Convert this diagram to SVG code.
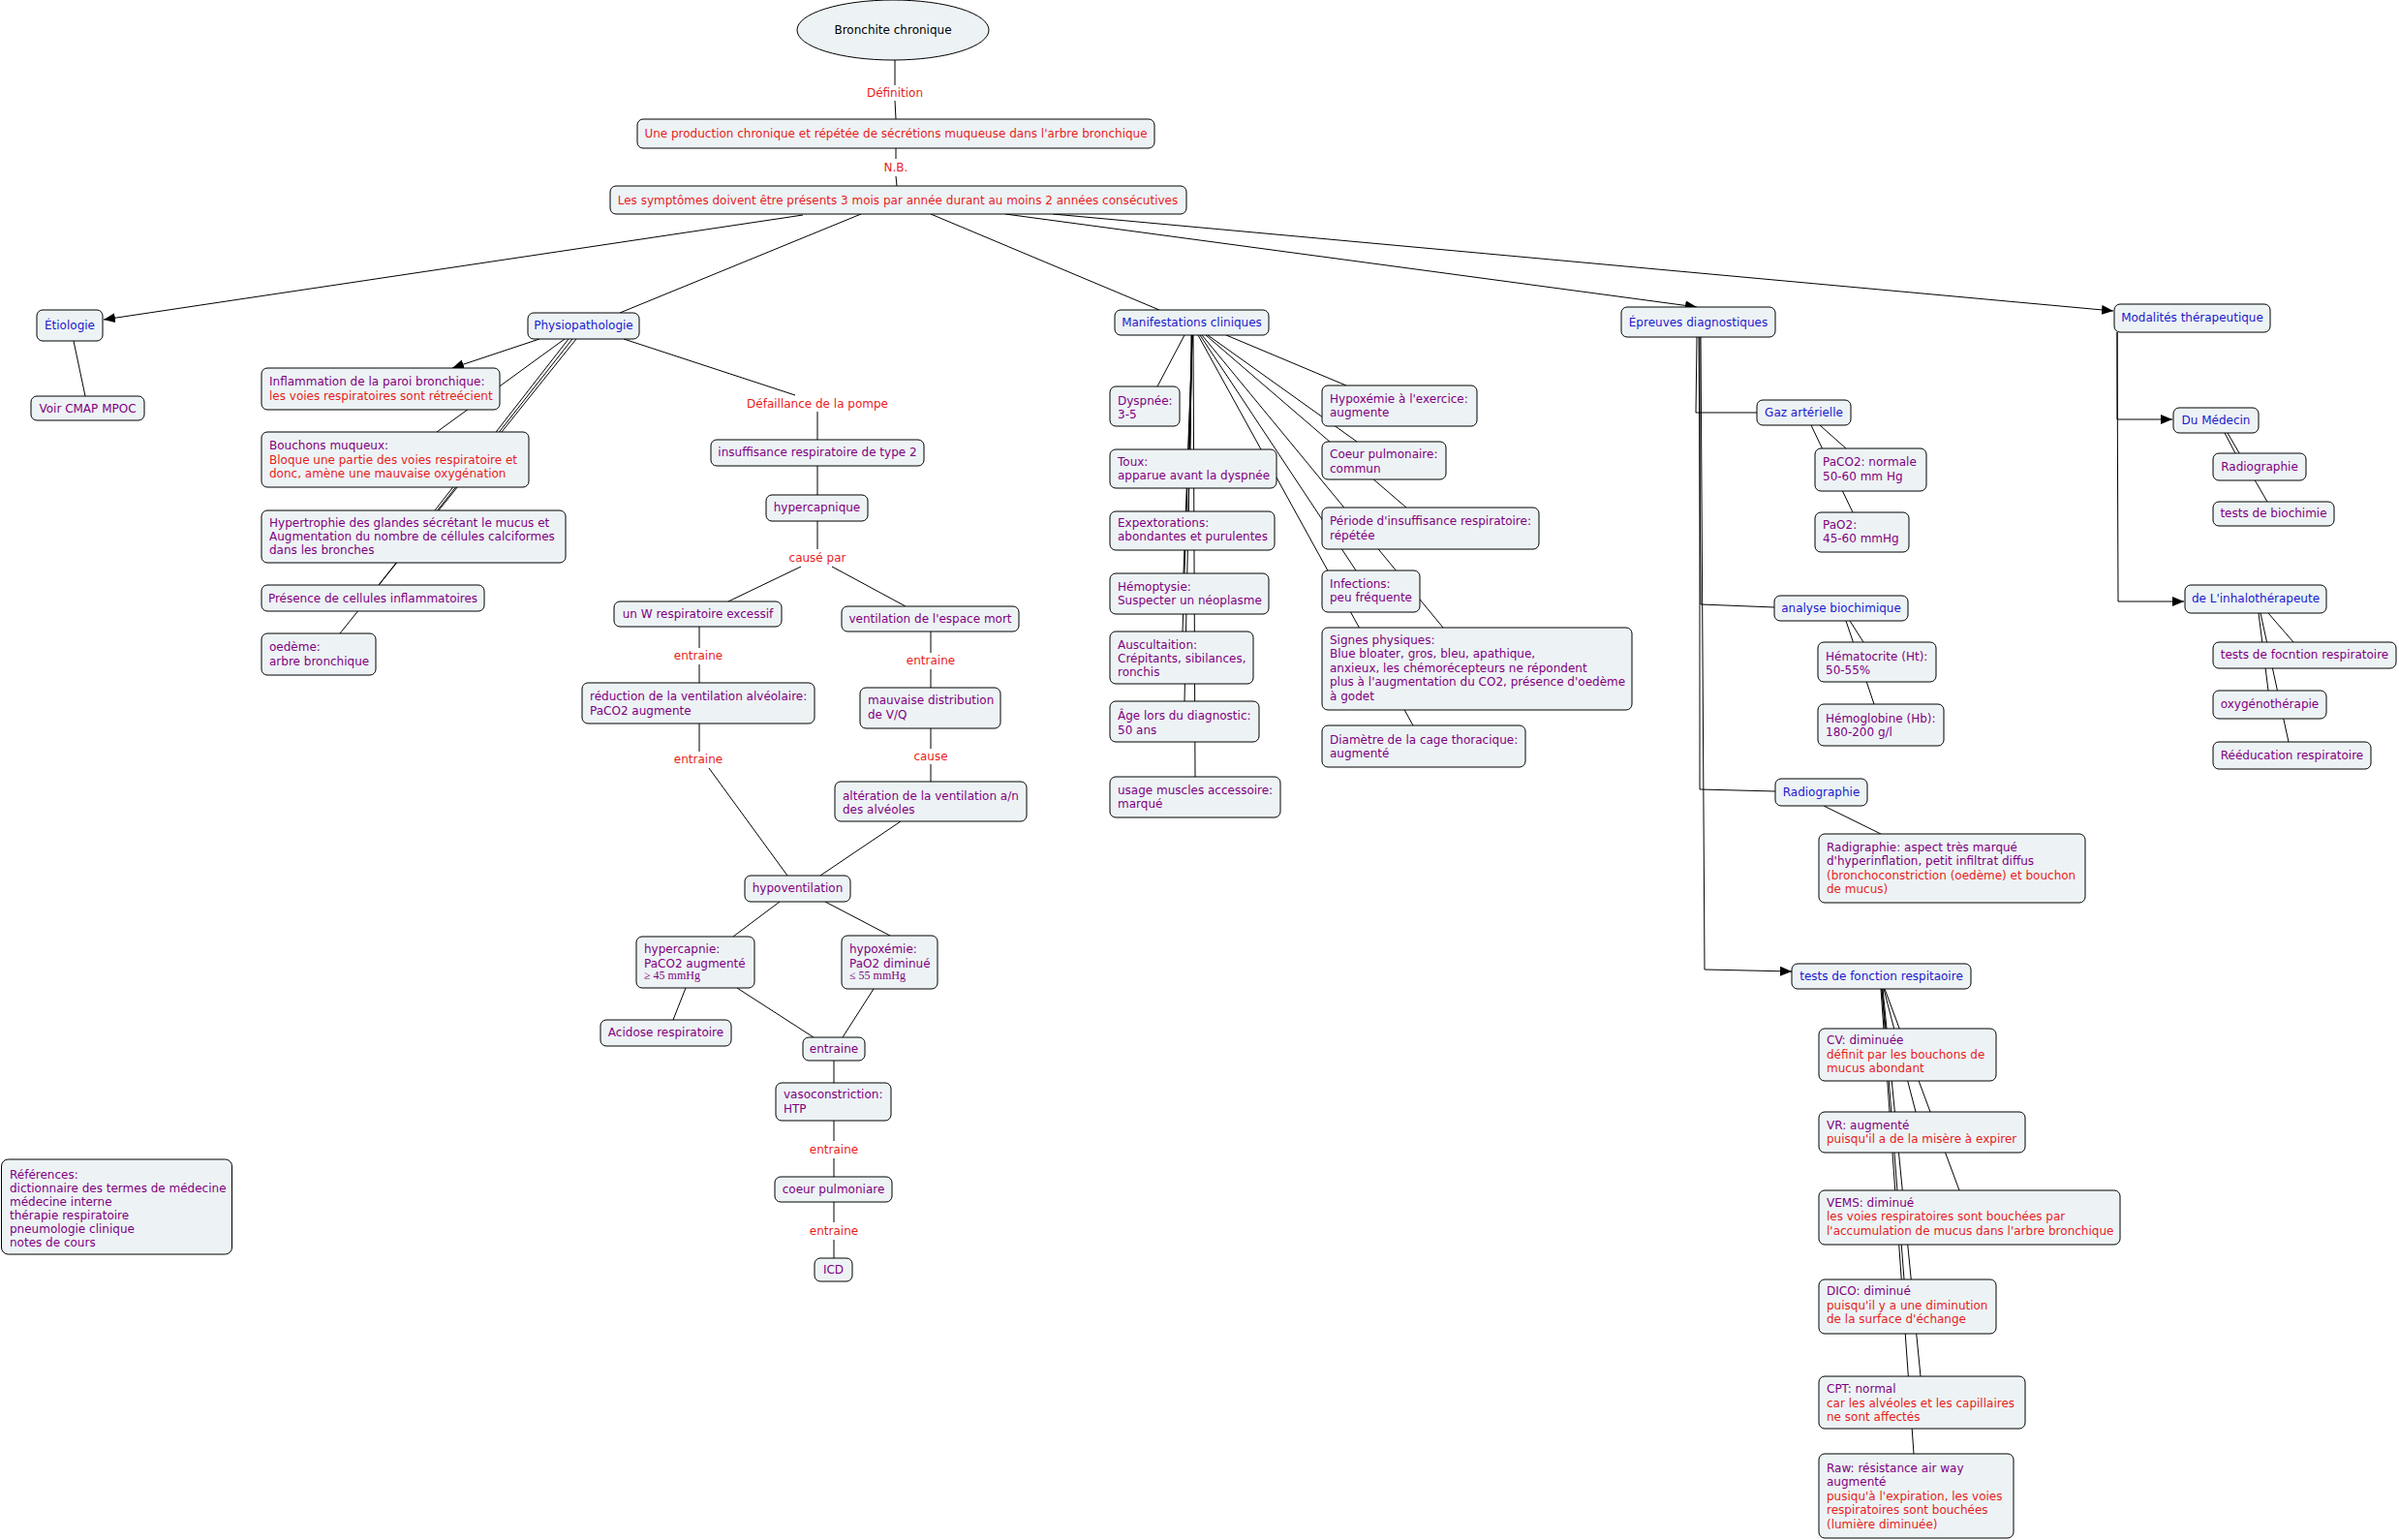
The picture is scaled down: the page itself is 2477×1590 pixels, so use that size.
<svg xmlns="http://www.w3.org/2000/svg" width="2477" height="1590" viewBox="0 0 2477 1590">
<style>
text{font-family:"DejaVu Sans",Verdana,sans-serif;font-size:12px}
.n rect,.n ellipse{fill:#edf3f5;stroke:#000;stroke-width:1}
.p{fill:#800080}.r{fill:#e81c1c}.b{fill:#1a1acc}.k{fill:#000}
.m{text-anchor:middle}
.s{font-family:"Liberation Serif","Times New Roman",serif;font-size:12px}
#connectors line,#connectors polyline{stroke:#000;stroke-width:1;fill:none}
</style>
<defs>
<marker id="ah" markerUnits="userSpaceOnUse" markerWidth="12" markerHeight="10" refX="12" refY="5" orient="auto"><path d="M0,0 L12,5 L0,10 z" fill="#000"/></marker>
</defs>
<rect width="2477" height="1590" fill="#fff"/>
<g id="connectors">
<line x1="924" y1="62" x2="924" y2="88"/>
<line x1="924" y1="104" x2="925" y2="123"/>
<line x1="925" y1="153" x2="925" y2="164"/>
<line x1="925" y1="182" x2="926" y2="192"/>
<line x1="829" y1="222" x2="107" y2="330" marker-end="url(#ah)"/>
<line x1="889" y1="221" x2="640" y2="323"/>
<line x1="961" y1="221" x2="1197" y2="320"/>
<line x1="1038" y1="221" x2="1752" y2="317" marker-end="url(#ah)"/>
<line x1="1087" y1="221" x2="2182" y2="321" marker-end="url(#ah)"/>
<line x1="76" y1="352" x2="88" y2="409"/>
<line x1="557" y1="350" x2="467" y2="380" marker-end="url(#ah)"/>
<line x1="583" y1="350" x2="451" y2="446"/>
<line x1="587" y1="350" x2="449" y2="527"/>
<line x1="591" y1="350" x2="391" y2="604"/>
<line x1="595" y1="350" x2="351" y2="654"/>
<line x1="644" y1="350" x2="821" y2="408"/>
<line x1="844" y1="425" x2="844" y2="454"/>
<line x1="844" y1="481" x2="844" y2="511"/>
<line x1="844" y1="538" x2="844" y2="567"/>
<line x1="827" y1="585" x2="752" y2="621"/>
<line x1="859" y1="585" x2="935" y2="626"/>
<line x1="722" y1="647" x2="722" y2="669"/>
<line x1="722" y1="686" x2="722" y2="705"/>
<line x1="722" y1="747" x2="722" y2="776"/>
<line x1="732" y1="793" x2="813" y2="904"/>
<line x1="961" y1="652" x2="961" y2="674"/>
<line x1="961" y1="691" x2="961" y2="710"/>
<line x1="961" y1="752" x2="961" y2="773"/>
<line x1="961" y1="789" x2="961" y2="807"/>
<line x1="930" y1="848" x2="847" y2="904"/>
<line x1="805" y1="931" x2="757" y2="967"/>
<line x1="852" y1="931" x2="919" y2="966"/>
<line x1="708" y1="1020" x2="695" y2="1053"/>
<line x1="761" y1="1020" x2="840" y2="1071"/>
<line x1="902" y1="1021" x2="870" y2="1071"/>
<line x1="861" y1="1095" x2="861" y2="1118"/>
<line x1="861" y1="1157" x2="861" y2="1178"/>
<line x1="861" y1="1196" x2="861" y2="1215"/>
<line x1="861" y1="1241" x2="861" y2="1262"/>
<line x1="861" y1="1280" x2="861" y2="1299"/>
<line x1="1223" y1="346" x2="1195" y2="399"/>
<line x1="1230" y1="346" x2="1229" y2="464"/>
<line x1="1231" y1="346" x2="1227" y2="528"/>
<line x1="1231" y1="346" x2="1222" y2="592"/>
<line x1="1231" y1="346" x2="1221" y2="652"/>
<line x1="1231" y1="346" x2="1223" y2="724"/>
<line x1="1232" y1="346" x2="1234" y2="802"/>
<line x1="1266" y1="346" x2="1390" y2="398"/>
<line x1="1247" y1="346" x2="1401" y2="456"/>
<line x1="1245" y1="346" x2="1452" y2="524"/>
<line x1="1239" y1="346" x2="1400" y2="589"/>
<line x1="1241" y1="346" x2="1490" y2="648"/>
<line x1="1237" y1="346" x2="1459" y2="749"/>
<polyline points="1752,348 1751,426 1814,426"/>
<polyline points="1754,348 1756,624 1832,627"/>
<polyline points="1755,348 1755,815 1833,817"/>
<polyline points="1756,348 1760,1001 1850,1003" marker-end="url(#ah)"/>
<line x1="1879" y1="439" x2="1906" y2="463"/>
<line x1="1870" y1="439" x2="1913" y2="529"/>
<line x1="1910" y1="641" x2="1924" y2="663"/>
<line x1="1906" y1="641" x2="1935" y2="727"/>
<line x1="1883" y1="832" x2="1942" y2="861"/>
<line x1="1943" y1="1021" x2="1947" y2="1062"/>
<line x1="1945" y1="1021" x2="1978" y2="1148"/>
<line x1="1946" y1="1021" x2="2023" y2="1229"/>
<line x1="1943" y1="1021" x2="1966" y2="1321"/>
<line x1="1944" y1="1021" x2="1983" y2="1421"/>
<line x1="1942" y1="1021" x2="1976" y2="1501"/>
<polyline points="2186,343 2186,433 2243,433" marker-end="url(#ah)"/>
<polyline points="2186,343 2187,621 2255,621" marker-end="url(#ah)"/>
<line x1="2297" y1="447" x2="2308" y2="468"/>
<line x1="2300" y1="447" x2="2341" y2="518"/>
<line x1="2342" y1="633" x2="2368" y2="663"/>
<line x1="2332" y1="633" x2="2342" y2="713"/>
<line x1="2334" y1="633" x2="2363" y2="766"/>
</g>
<g id="labels">
<text class="r m" x="924" y="100">Définition</text>
<text class="r m" x="925" y="177">N.B.</text>
<text class="r m" x="844" y="421">Défaillance de la pompe</text>
<text class="r m" x="844" y="580">causé par</text>
<text class="r m" x="721" y="681">entraine</text>
<text class="r m" x="721" y="788">entraine</text>
<text class="r m" x="961" y="686">entraine</text>
<text class="r m" x="961" y="785">cause</text>
<text class="r m" x="861" y="1191">entraine</text>
<text class="r m" x="861" y="1275">entraine</text>
</g>
<g id="root" class="n"><ellipse cx="922" cy="31" rx="99" ry="31"/><text class="k m" x="922" y="35">Bronchite chronique</text></g>
<g id="definition" class="n"><rect x="658" y="123" width="534" height="30" rx="6"/><text class="r m" x="925" y="142">Une production chronique et répétée de sécrétions muqueuse dans l'arbre bronchique</text></g>
<g id="nb" class="n"><rect x="630" y="192" width="595" height="29" rx="6"/><text class="r m" x="927" y="211">Les symptômes doivent être présents 3 mois par année durant au moins 2 années consécutives</text></g>
<g id="etiologie" class="n"><rect x="38" y="320" width="68" height="32" rx="6"/><text class="b m" x="72" y="340">Étiologie</text></g>
<g id="voir" class="n"><rect x="32" y="409" width="117" height="25" rx="6"/><text class="p m" x="90.5" y="426">Voir CMAP MPOC</text></g>
<g id="physio" class="n"><rect x="545" y="323" width="115" height="27" rx="6"/><text class="b m" x="602.5" y="340">Physiopathologie</text></g>
<g id="inflammation" class="n"><rect x="270" y="380" width="246" height="43" rx="6"/><text class="p" x="278" y="398">Inflammation de la paroi bronchique:</text><text class="r" x="278" y="413">les voies respiratoires sont rétreécient</text></g>
<g id="bouchons" class="n"><rect x="270" y="446" width="276" height="57" rx="6"/><text class="p" x="278" y="464">Bouchons muqueux:</text><text class="r" x="278" y="479">Bloque une partie des voies respiratoire et</text><text class="r" x="278" y="493">donc, amène une mauvaise oxygénation</text></g>
<g id="hypertrophie" class="n"><rect x="270" y="527" width="314" height="54" rx="6"/><text class="p" x="278" y="544">Hypertrophie des glandes sécrétant le mucus et</text><text class="p" x="278" y="558">Augmentation du nombre de céllules calciformes</text><text class="p" x="278" y="572">dans les bronches</text></g>
<g id="presence" class="n"><rect x="270" y="604" width="230" height="27" rx="6"/><text class="p m" x="385" y="622">Présence de cellules inflammatoires</text></g>
<g id="oedeme" class="n"><rect x="270" y="654" width="118" height="43" rx="6"/><text class="p" x="278" y="672">oedème:</text><text class="p" x="278" y="687">arbre bronchique</text></g>
<g id="insuffisance" class="n"><rect x="734" y="454" width="220" height="27" rx="6"/><text class="p m" x="844" y="471">insuffisance respiratoire de type 2</text></g>
<g id="hypercapnique" class="n"><rect x="791" y="511" width="105" height="27" rx="6"/><text class="p m" x="843.5" y="528">hypercapnique</text></g>
<g id="unw" class="n"><rect x="634" y="621" width="173" height="26" rx="6"/><text class="p m" x="720.5" y="638">un W respiratoire excessif</text></g>
<g id="ventilation" class="n"><rect x="869" y="626" width="183" height="26" rx="6"/><text class="p m" x="960.5" y="643">ventilation de l'espace mort</text></g>
<g id="reduction" class="n"><rect x="601" y="705" width="240" height="42" rx="6"/><text class="p" x="609" y="723">réduction de la ventilation alvéolaire:</text><text class="p" x="609" y="738">PaCO2 augmente</text></g>
<g id="mauvaise" class="n"><rect x="888" y="710" width="145" height="42" rx="6"/><text class="p" x="896" y="727">mauvaise distribution</text><text class="p" x="896" y="742">de V/Q</text></g>
<g id="alteration" class="n"><rect x="862" y="807" width="198" height="41" rx="6"/><text class="p" x="870" y="826">altération de la ventilation a/n</text><text class="p" x="870" y="840">des alvéoles</text></g>
<g id="hypoventilation" class="n"><rect x="769" y="904" width="109" height="27" rx="6"/><text class="p m" x="823.5" y="921">hypoventilation</text></g>
<g id="hypercapnie" class="n"><rect x="657" y="967" width="122" height="53" rx="6"/><text class="p" x="665" y="984">hypercapnie:</text><text class="p" x="665" y="999">PaCO2 augmenté</text><text class="p s" x="665" y="1011">≥ 45 mmHg</text></g>
<g id="hypoxemie" class="n"><rect x="869" y="966" width="99" height="55" rx="6"/><text class="p" x="877" y="984">hypoxémie:</text><text class="p" x="877" y="999">PaO2 diminué</text><text class="p s" x="877" y="1011">≤ 55 mmHg</text></g>
<g id="acidose" class="n"><rect x="620" y="1053" width="135" height="27" rx="6"/><text class="p m" x="687.5" y="1070">Acidose respiratoire</text></g>
<g id="entraine" class="n"><rect x="829" y="1071" width="64" height="24" rx="6"/><text class="p m" x="861" y="1087">entraine</text></g>
<g id="vaso" class="n"><rect x="801" y="1118" width="119" height="39" rx="6"/><text class="p" x="809" y="1134">vasoconstriction:</text><text class="p" x="809" y="1149">HTP</text></g>
<g id="coeurpulmoniare" class="n"><rect x="800" y="1215" width="121" height="26" rx="6"/><text class="p m" x="860.5" y="1232">coeur pulmoniare</text></g>
<g id="icd" class="n"><rect x="841" y="1299" width="39" height="24" rx="6"/><text class="p m" x="860.5" y="1315">ICD</text></g>
<g id="manif" class="n"><rect x="1151" y="320" width="159" height="26" rx="6"/><text class="b m" x="1230.5" y="337">Manifestations cliniques</text></g>
<g id="dyspnee" class="n"><rect x="1146" y="399" width="72" height="41" rx="6"/><text class="p" x="1154" y="418">Dyspnée:</text><text class="p" x="1154" y="432">3-5</text></g>
<g id="toux" class="n"><rect x="1146" y="464" width="172" height="40" rx="6"/><text class="p" x="1154" y="481">Toux:</text><text class="p" x="1154" y="495">apparue avant la dyspnée</text></g>
<g id="expectorations" class="n"><rect x="1146" y="528" width="170" height="40" rx="6"/><text class="p" x="1154" y="544">Expextorations:</text><text class="p" x="1154" y="558">abondantes et purulentes</text></g>
<g id="hemoptysie" class="n"><rect x="1146" y="592" width="164" height="42" rx="6"/><text class="p" x="1154" y="610">Hémoptysie:</text><text class="p" x="1154" y="624">Suspecter un néoplasme</text></g>
<g id="auscultation" class="n"><rect x="1146" y="652" width="148" height="54" rx="6"/><text class="p" x="1154" y="670">Auscultaition:</text><text class="p" x="1154" y="684">Crépitants, sibilances,</text><text class="p" x="1154" y="698">ronchis</text></g>
<g id="age" class="n"><rect x="1146" y="724" width="154" height="42" rx="6"/><text class="p" x="1154" y="743">Âge lors du diagnostic:</text><text class="p" x="1154" y="758">50 ans</text></g>
<g id="usage" class="n"><rect x="1146" y="802" width="176" height="42" rx="6"/><text class="p" x="1154" y="820">usage muscles accessoire:</text><text class="p" x="1154" y="834">marqué</text></g>
<g id="hypoxexercice" class="n"><rect x="1365" y="398" width="160" height="42" rx="6"/><text class="p" x="1373" y="416">Hypoxémie à l'exercice:</text><text class="p" x="1373" y="430">augmente</text></g>
<g id="coeurpulmonaire" class="n"><rect x="1365" y="456" width="128" height="39" rx="6"/><text class="p" x="1373" y="473">Coeur pulmonaire:</text><text class="p" x="1373" y="488">commun</text></g>
<g id="periode" class="n"><rect x="1365" y="524" width="224" height="43" rx="6"/><text class="p" x="1373" y="542">Période d'insuffisance respiratoire:</text><text class="p" x="1373" y="557">répétée</text></g>
<g id="infections" class="n"><rect x="1365" y="589" width="101" height="43" rx="6"/><text class="p" x="1373" y="607">Infections:</text><text class="p" x="1373" y="621">peu fréquente</text></g>
<g id="signes" class="n"><rect x="1365" y="648" width="320" height="85" rx="6"/><text class="p" x="1373" y="665">Signes physiques:</text><text class="p" x="1373" y="679">Blue bloater, gros, bleu, apathique,</text><text class="p" x="1373" y="694">anxieux, les chémorécepteurs ne répondent</text><text class="p" x="1373" y="708">plus à l'augmentation du CO2, présence d'oedème</text><text class="p" x="1373" y="723">à godet</text></g>
<g id="diametre" class="n"><rect x="1365" y="749" width="210" height="43" rx="6"/><text class="p" x="1373" y="768">Diamètre de la cage thoracique:</text><text class="p" x="1373" y="782">augmenté</text></g>
<g id="epreuves" class="n"><rect x="1674" y="317" width="159" height="31" rx="6"/><text class="b m" x="1753.5" y="337">Épreuves diagnostiques</text></g>
<g id="gaz" class="n"><rect x="1814" y="413" width="97" height="26" rx="6"/><text class="b m" x="1862.5" y="430">Gaz artérielle</text></g>
<g id="paco2" class="n"><rect x="1874" y="463" width="115" height="44" rx="6"/><text class="p" x="1882" y="481">PaCO2: normale</text><text class="p" x="1882" y="496">50-60 mm Hg</text></g>
<g id="pao2" class="n"><rect x="1874" y="529" width="97" height="41" rx="6"/><text class="p" x="1882" y="546">PaO2:</text><text class="p" x="1882" y="560">45-60 mmHg</text></g>
<g id="analyse" class="n"><rect x="1832" y="615" width="138" height="26" rx="6"/><text class="b m" x="1901" y="632">analyse biochimique</text></g>
<g id="hematocrite" class="n"><rect x="1877" y="663" width="122" height="41" rx="6"/><text class="p" x="1885" y="682">Hématocrite (Ht):</text><text class="p" x="1885" y="696">50-55%</text></g>
<g id="hemoglobine" class="n"><rect x="1877" y="727" width="130" height="43" rx="6"/><text class="p" x="1885" y="746">Hémoglobine (Hb):</text><text class="p" x="1885" y="760">180-200 g/l</text></g>
<g id="radiographie" class="n"><rect x="1833" y="804" width="95" height="28" rx="6"/><text class="b m" x="1880.5" y="822">Radiographie</text></g>
<g id="radigraphie" class="n"><rect x="1878" y="861" width="275" height="71" rx="6"/><text class="p" x="1886" y="879">Radigraphie: aspect très marqué</text><text class="p" x="1886" y="893">d'hyperinflation, petit infiltrat diffus</text><text class="r" x="1886" y="908">(bronchoconstriction (oedème) et bouchon</text><text class="r" x="1886" y="922">de mucus)</text></g>
<g id="testsfonction" class="n"><rect x="1850" y="995" width="185" height="26" rx="6"/><text class="b m" x="1942.5" y="1012">tests de fonction respitaoire</text></g>
<g id="cv" class="n"><rect x="1878" y="1062" width="183" height="54" rx="6"/><text class="p" x="1886" y="1078">CV: diminuée</text><text class="r" x="1886" y="1093">définit par les bouchons de</text><text class="r" x="1886" y="1107">mucus abondant</text></g>
<g id="vr" class="n"><rect x="1878" y="1148" width="213" height="42" rx="6"/><text class="p" x="1886" y="1166">VR: augmenté</text><text class="r" x="1886" y="1180">puisqu'il a de la misère à expirer</text></g>
<g id="vems" class="n"><rect x="1878" y="1229" width="311" height="56" rx="6"/><text class="p" x="1886" y="1246">VEMS: diminué</text><text class="r" x="1886" y="1260">les voies respiratoires sont bouchées par</text><text class="r" x="1886" y="1275">l'accumulation de mucus dans l'arbre bronchique</text></g>
<g id="dico" class="n"><rect x="1878" y="1321" width="183" height="56" rx="6"/><text class="p" x="1886" y="1337">DICO: diminué</text><text class="r" x="1886" y="1352">puisqu'il y a une diminution</text><text class="r" x="1886" y="1366">de la surface d'échange</text></g>
<g id="cpt" class="n"><rect x="1878" y="1421" width="213" height="54" rx="6"/><text class="p" x="1886" y="1438">CPT: normal</text><text class="r" x="1886" y="1453">car les alvéoles et les capillaires</text><text class="r" x="1886" y="1467">ne sont affectés</text></g>
<g id="raw" class="n"><rect x="1878" y="1501" width="201" height="87" rx="6"/><text class="p" x="1886" y="1520">Raw: résistance air way</text><text class="p" x="1886" y="1534">augmenté</text><text class="r" x="1886" y="1549">pusiqu'à l'expiration, les voies</text><text class="r" x="1886" y="1563">respiratoires sont bouchées</text><text class="r" x="1886" y="1578">(lumière diminuée)</text></g>
<g id="modalites" class="n"><rect x="2183" y="314" width="161" height="29" rx="6"/><text class="b m" x="2263.5" y="332">Modalités thérapeutique</text></g>
<g id="medecin" class="n"><rect x="2244" y="421" width="88" height="26" rx="6"/><text class="b m" x="2288" y="438">Du Médecin</text></g>
<g id="radio2" class="n"><rect x="2285" y="468" width="96" height="28" rx="6"/><text class="p m" x="2333" y="486">Radiographie</text></g>
<g id="biochimie" class="n"><rect x="2285" y="518" width="125" height="25" rx="6"/><text class="p m" x="2347.5" y="534">tests de biochimie</text></g>
<g id="inhalo" class="n"><rect x="2256" y="604" width="146" height="29" rx="6"/><text class="b m" x="2329" y="622">de L'inhalothérapeute</text></g>
<g id="testsfocntion" class="n"><rect x="2285" y="663" width="189" height="27" rx="6"/><text class="p m" x="2379.5" y="680">tests de focntion respiratoire</text></g>
<g id="oxygeno" class="n"><rect x="2285" y="713" width="117" height="29" rx="6"/><text class="p m" x="2343.5" y="731">oxygénothérapie</text></g>
<g id="reeducation" class="n"><rect x="2285" y="766" width="163" height="28" rx="6"/><text class="p m" x="2366.5" y="784">Rééducation respiratoire</text></g>
<g id="references" class="n"><rect x="1.5" y="1197" width="238" height="98" rx="7"/><text class="p" x="10" y="1217">Références:</text><text class="p" x="10" y="1231">dictionnaire des termes de médecine</text><text class="p" x="10" y="1245">médecine interne</text><text class="p" x="10" y="1259">thérapie respiratoire</text><text class="p" x="10" y="1273">pneumologie clinique</text><text class="p" x="10" y="1287">notes de cours</text></g>
</svg>
